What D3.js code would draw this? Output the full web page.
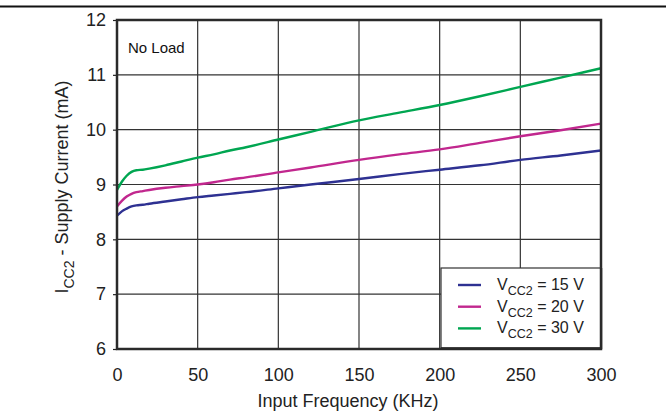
<!DOCTYPE html>
<html>
<head>
<meta charset="utf-8">
<script src="https://cdn.jsdelivr.net/npm/d3@7"></script>
<style>
  html, body { margin: 0; padding: 0; background: #fff; }
  svg { display: block; font-family: "Liberation Sans", Arial, sans-serif; }
</style>
</head>
<body>
<svg id="chart" width="666" height="413"></svg>
<script>
// Input frequency (kHz) sample points
const freq = [0, 3, 6, 9, 12, 16, 20, 30, 40, 50, 60, 70, 80, 100, 120, 150, 175, 200, 225, 250, 275, 300];
// Supply current ICC2 (mA) for each VCC2 setting
const icc15 = [8.43, 8.51, 8.56, 8.60, 8.62, 8.63, 8.65, 8.69, 8.73, 8.77, 8.80, 8.83, 8.86, 8.93, 9.00, 9.10, 9.19, 9.27, 9.35, 9.45, 9.53, 9.62];
const icc20 = [8.60, 8.70, 8.78, 8.83, 8.86, 8.88, 8.90, 8.94, 8.97, 9.00, 9.04, 9.09, 9.13, 9.22, 9.31, 9.45, 9.55, 9.64, 9.76, 9.88, 9.99, 10.11];
const icc30 = [8.90, 9.05, 9.16, 9.23, 9.26, 9.27, 9.29, 9.35, 9.42, 9.49, 9.55, 9.62, 9.68, 9.82, 9.96, 10.17, 10.31, 10.45, 10.61, 10.78, 10.95, 11.12];
const seriesNames = ["15 V", "20 V", "30 V"];
const seriesColors = ["#2e3192", "#c1278e", "#00a651"];
const xTicks = [0, 50, 100, 150, 200, 250, 300];
const yTicks = [6, 7, 8, 9, 10, 11, 12];

const svg = d3.select("#chart");
const m = { left: 117, right: 601, top: 20, bottom: 349 };

const x = d3.scaleLinear().domain([0, 300]).range([m.left, m.right]);
const y = d3.scaleLinear().domain([6, 12]).range([m.bottom, m.top]);

// rule across the top of the page
svg.append("line")
  .attr("x1", 0).attr("x2", 666).attr("y1", 6.5).attr("y2", 6.5)
  .attr("stroke", "#111").attr("stroke-width", 2);

// grid
const grid = svg.append("g");
grid.selectAll("line.v").data(xTicks.slice(1, -1)).join("line")
  .attr("x1", d => x(d)).attr("x2", d => x(d))
  .attr("y1", m.top).attr("y2", m.bottom)
  .attr("stroke", "#333").attr("stroke-width", 1.2);
grid.selectAll("line.h").data(yTicks.slice(1, -1)).join("line")
  .attr("x1", m.left).attr("x2", m.right)
  .attr("y1", d => y(d)).attr("y2", d => y(d))
  .attr("stroke", "#333").attr("stroke-width", 1.2);

// axes
const yAxis = svg.append("g")
  .attr("transform", `translate(${m.left},0)`)
  .call(d3.axisLeft(y).tickValues(yTicks).tickSize(4).tickPadding(7).tickFormat(d3.format("d")));
const xAxis = svg.append("g")
  .attr("transform", `translate(0,${m.bottom})`)
  .call(d3.axisBottom(x).tickValues(xTicks).tickSize(0).tickPadding(19).tickFormat(d3.format("d")));
[yAxis, xAxis].forEach(a => {
  a.select(".domain").remove();
  a.selectAll("text").attr("font-size", 18).attr("fill", "#222")
    .style("font-family", "'Liberation Sans', Arial, sans-serif");
  a.selectAll("line").attr("stroke", "#222").attr("stroke-width", 1.2);
});

// series lines
const line = d3.line()
  .x((d, i) => x(freq[i]))
  .y(d => y(d))
  .curve(d3.curveMonotoneX);
const series = [icc15, icc20, icc30];
svg.append("g").selectAll("path").data(series).join("path")
  .attr("d", d => line(d))
  .attr("fill", "none")
  .attr("stroke", (d, i) => seriesColors[i])
  .attr("stroke-width", 2.4);

// plot frame
svg.append("rect")
  .attr("x", m.left).attr("y", m.top)
  .attr("width", m.right - m.left).attr("height", m.bottom - m.top)
  .attr("fill", "none").attr("stroke", "#2a2a2a").attr("stroke-width", 2.5);

// condition note
svg.append("text").attr("x", 128).attr("y", 53)
  .attr("font-size", 15).attr("fill", "#111").text("No Load");

// legend
const lg = svg.append("g");
lg.append("rect")
  .attr("x", 441).attr("y", 268).attr("width", 160).attr("height", 80)
  .attr("fill", "#fff").attr("stroke", "#333").attr("stroke-width", 1.2);
lg.append("line").attr("x1", 601).attr("x2", 601).attr("y1", 268).attr("y2", 349)
  .attr("stroke", "#2a2a2a").attr("stroke-width", 2.5);
lg.append("line").attr("x1", 441).attr("x2", 601).attr("y1", 348.5).attr("y2", 348.5)
  .attr("stroke", "#2a2a2a").attr("stroke-width", 2.5);
const rows = lg.selectAll("g.row").data(seriesNames).join("g")
  .attr("transform", (d, i) => `translate(0,${285 + i * 21.7})`);
rows.append("line").attr("x1", 458).attr("x2", 481).attr("y1", 0).attr("y2", 0)
  .attr("stroke", (d, i) => seriesColors[i]).attr("stroke-width", 2.4);
const lt = rows.append("text").attr("x", 497).attr("y", 5)
  .attr("font-size", 16).attr("fill", "#222");
lt.append("tspan").text("V");
lt.append("tspan").attr("dy", 5).attr("font-size", 12.5).text("CC2");
lt.append("tspan").attr("dy", -5).text(d => " = " + d);

// axis titles
svg.append("text").attr("x", 348).attr("y", 407)
  .attr("text-anchor", "middle").attr("font-size", 18).attr("fill", "#222")
  .text("Input Frequency (KHz)");
const yt = svg.append("text")
  .attr("transform", `translate(68,187) rotate(-90)`)
  .attr("text-anchor", "middle").attr("font-size", 18).attr("fill", "#222");
yt.append("tspan").text("I");
yt.append("tspan").attr("dy", 6).attr("font-size", 14).text("CC2");
yt.append("tspan").attr("dy", -6).text(" - Supply Current (mA)");
</script>
</body>
</html>
